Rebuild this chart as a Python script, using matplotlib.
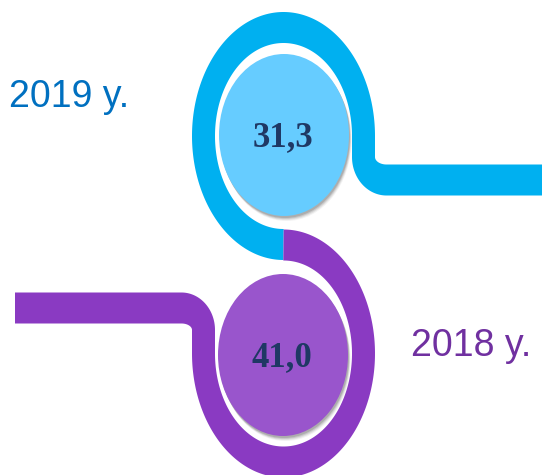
import numpy as np
import matplotlib.pyplot as plt
from matplotlib.patches import Ellipse

# datos
years = ["2019 y.", "2018 y."]
values = [31.3, 41.0]
band_colors = ["#00B0F0", "#8A3AC2"]
fill_colors = ["#66CCFF", "#9955CC"]
year_colors = ["#0070C0", "#7030A0"]
value_color = "#1F3864"


def arc(cx, cy, rx, ry, a0, a1, n=200):
    t = np.radians(np.linspace(a0, a1, n))
    return np.c_[cx + rx * np.cos(t), cy + ry * np.sin(t)]


def line(p0, p1, n=40):
    return np.c_[np.linspace(p0[0], p1[0], n), np.linspace(p0[1], p1[1], n)]


def join(*segs):
    pts = [segs[0]] + [s[1:] for s in segs[1:]]
    return np.vstack(pts)


def band(ax, pts, color, hx=11.5, hy=15.5):
    # trazo con grosor distinto en x e y
    d = np.gradient(pts, axis=0)
    d /= np.hypot(d[:, 0], d[:, 1])[:, None]
    nrm = np.c_[-d[:, 1], d[:, 0]]
    left = pts + nrm * [hx, hy]
    right = pts - nrm * [hx, hy]
    poly = np.vstack([left, right[::-1]])
    ax.fill(poly[:, 0], poly[:, 1], color=color, lw=0, zorder=1)


fig = plt.figure(figsize=(5.42, 4.75), dpi=100)
ax = fig.add_axes([0, 0, 1, 1])
ax.set_xlim(0, 542)
ax.set_ylim(475, 0)
ax.axis("off")

# banda superior (2019)
cyan = join(arc(283.5, 136, 80, 108.5, 90, 360),
            line((363.5, 136), (363.5, 157)),
            arc(386.5, 157, 23, 23, 180, 90, 60),
            line((386.5, 180), (545, 180)))
band(ax, cyan, band_colors[0])

# banda inferior (2018)
purple = join(arc(283.5, 353.5, 80, 108.5, 270, 540),
              line((203.5, 353.5), (203.5, 330)),
              arc(181.5, 330, 22, 22, 0, -90, 60),
              line((181.5, 308), (15, 308)))
band(ax, purple, band_colors[1])

# elipses con sombra
centers = [(284, 135), (283, 355)]
for (cx, cy), fc, v in zip(centers, fill_colors, values):
    for k, a in [(5, 0.08), (4, 0.12), (3, 0.18), (2, 0.25)]:
        ax.add_patch(Ellipse((cx + k * 0.5, cy + k), 130, 162, color="#606060",
                             alpha=a, lw=0, zorder=2))
    ax.add_patch(Ellipse((cx, cy), 130, 162, color=fc, lw=0, zorder=3))
    ax.text(cx - 1, cy + 11, f"{v:.1f}".replace(".", ","), ha="center", va="baseline",
            fontsize=25, fontweight="bold", family="Liberation Serif",
            color=value_color, zorder=4)

# etiquetas de año
ax.text(9, 107, years[0], ha="left", va="baseline", fontsize=27,
        family="Liberation Sans", color=year_colors[0])
ax.text(411, 356, years[1], ha="left", va="baseline", fontsize=27,
        family="Liberation Sans", color=year_colors[1])

fig.savefig("out.png", dpi=100)
